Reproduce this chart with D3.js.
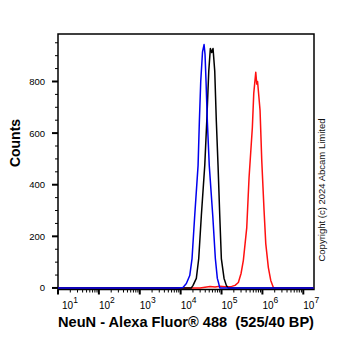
<!DOCTYPE html>
<html>
<head>
<meta charset="utf-8">
<script src="https://cdn.jsdelivr.net/npm/d3@7"></script>
<style>
  body { margin: 0; background: #fff; }
  svg { display: block; font-family: Arial, "Liberation Sans", sans-serif; }
</style>
</head>
<body>
<svg id="chart" width="362" height="351"></svg>
<script>
// histogram traces: intensity (x) and counts (y)
const blueX = [10, 8000, 11400, 13800, 16700, 19000, 22100, 26700, 28700, 31000, 34300, 37400, 39500, 41800, 45000, 50100, 61000, 70600, 79000, 85500, 90500, 120000, 18000000];
const blueY = [0, 0, 2, 17, 48, 114, 281, 475, 645, 800, 915, 943, 905, 800, 645, 475, 281, 114, 37, 17, 0, 0, 0];

const blackX = [10, 18300, 20100, 24200, 27700, 32100, 38900, 43500, 48700, 53300, 57600, 62000, 68300, 74700, 82200, 90500, 99000, 115300, 131200, 144400, 18000000];
const blackY = [0, 0, 10, 37, 114, 281, 475, 645, 839, 928, 912, 928, 839, 645, 475, 281, 114, 37, 10, 0, 0];

const redX = [10, 29800, 39500, 52400, 69400, 92000, 121900, 177900, 214200, 258000, 300300, 341900, 414100, 471500, 567700, 614300, 687800, 727600, 761000, 818800, 875900, 964000, 1097700, 1208000, 1399000, 1600000, 1853000, 2039000, 18000000];
const redY = [0, 0, 3, 6, 4, 7, 5, 6, 10, 21, 56, 107, 234, 428, 622, 754, 836, 790, 800, 742, 688, 494, 300, 172, 79, 29, 2, 0, 0];

const yTicks = [0, 200, 400, 600, 800];
const xDecades = [1, 2, 3, 4, 5, 6, 7];

const xTitle = "NeuN - Alexa Fluor\u00ae 488  (525/40 BP)";
const yTitle = "Counts";
const credit = "Copyright (c) 2024 Abcam Limited";

const svg = d3.select("#chart");
const padL = 58, padR = 314, padT = 34, padB = 289.5;

const x = d3.scaleLog().domain([10, Math.pow(10, 7.262)]).range([padL, padR]);
const y = d3.scaleLinear().domain([-6, 984]).range([padB, padT]);

// frame
svg.append("rect")
  .attr("x", padL).attr("y", padT)
  .attr("width", padR - padL).attr("height", padB - padT)
  .attr("fill", "none").attr("stroke", "#000").attr("stroke-width", 1.5);

// curves
const line = d3.line().x(d => x(d[0])).y(d => y(d[1]));
const traces = [
  { xs: redX, ys: redY, color: "#ff1010" },
  { xs: blackX, ys: blackY, color: "#000" },
  { xs: blueX, ys: blueY, color: "#0000ee" }
];
traces.forEach(t => {
  svg.append("path")
    .datum(t.xs.map((v, i) => [v, t.ys[i]]))
    .attr("d", line)
    .attr("fill", "none")
    .attr("stroke", t.color)
    .attr("stroke-width", 1.5)
    .attr("stroke-linejoin", "round");
});

// y axis: major + minor ticks
const yMinor = d3.range(50, 1000, 50).filter(v => v % 200 != 0 && v <= 950);
svg.selectAll(".ymin").data(yMinor).join("line")
  .attr("x1", padL - 3).attr("x2", padL)
  .attr("y1", d => y(d)).attr("y2", d => y(d))
  .attr("stroke", "#000").attr("stroke-width", 1);
svg.selectAll(".ymaj").data(yTicks).join("line")
  .attr("x1", padL - 6).attr("x2", padL)
  .attr("y1", d => y(d)).attr("y2", d => y(d))
  .attr("stroke", "#000").attr("stroke-width", 2);
svg.selectAll(".ylab").data(yTicks).join("text")
  .attr("x", 45).attr("y", d => y(d) + 3.5)
  .attr("text-anchor", "end")
  .attr("font-size", 9.5)
  .text(d => d);

// x axis: log ticks
const xMinor = [];
for (let k = 1; k <= 7; k++) {
  for (let m = 2; m <= 9; m++) {
    const v = m * Math.pow(10, k);
    if (v < x.domain()[1]) xMinor.push(v);
  }
}
svg.selectAll(".xmin").data(xMinor).join("line")
  .attr("x1", d => x(d)).attr("x2", d => x(d))
  .attr("y1", padB).attr("y2", padB + 3)
  .attr("stroke", "#000").attr("stroke-width", 1);
svg.selectAll(".xmaj").data(xDecades).join("line")
  .attr("x1", d => x(Math.pow(10, d))).attr("x2", d => x(Math.pow(10, d)))
  .attr("y1", padB).attr("y2", padB + 5)
  .attr("stroke", "#000").attr("stroke-width", 2);

const xl = svg.selectAll(".xlab").data(xDecades).join("text")
  .attr("x", d => Math.max(x(Math.pow(10, d)), 62))
  .attr("y", 309)
  .attr("font-size", 10);
xl.append("tspan").text("10");
xl.append("tspan").attr("dy", -6).attr("font-size", 8.5).text(d => d);

// titles
svg.append("text")
  .attr("x", 186).attr("y", 327)
  .attr("text-anchor", "middle")
  .attr("font-size", 14.6).attr("font-weight", "bold")
  .style("white-space", "pre")
  .text(xTitle);

svg.append("text")
  .attr("transform", "translate(20,143) rotate(-90)")
  .attr("text-anchor", "middle")
  .attr("font-size", 14).attr("font-weight", "bold")
  .text(yTitle);

svg.append("text")
  .attr("transform", "translate(325,190) rotate(-90)")
  .attr("text-anchor", "middle")
  .attr("font-size", 9.5)
  .attr("fill", "#111")
  .text(credit);
</script>
</body>
</html>
